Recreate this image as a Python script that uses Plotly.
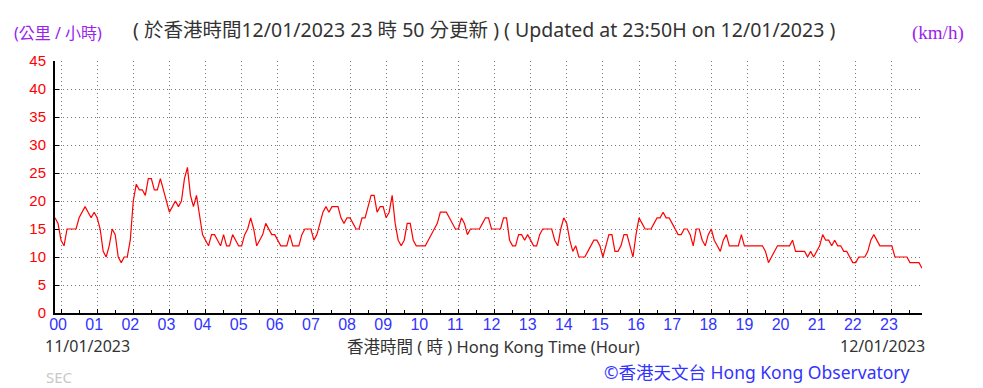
import plotly.graph_objects as go

# 10-minute mean wind speed (km/h), read every 5 minutes from 23:50 11/01 to 23:50 12/01
start_minute = -10
step_minute = 5
speed_kmh = [
    17, 16,
    13, 12, 15, 15, 15, 15, 17, 18, 19, 18, 17, 18,   # 00
    17, 15, 11, 10, 12, 15, 14, 10, 9, 10, 10, 13,    # 01
    20, 23, 22, 22, 21, 24, 24, 22, 22, 24, 22, 20,   # 02
    18, 19, 20, 19, 20, 24, 26, 21, 19, 21, 17, 14,   # 03
    13, 12, 14, 14, 13, 12, 14, 12, 12, 14, 13, 12,   # 04
    12, 14, 15, 17, 15, 12, 13, 14, 16, 15, 14, 14,   # 05
    13, 12, 12, 12, 14, 12, 12, 12, 14, 15, 15, 15,   # 06
    13, 14, 16, 18, 19, 18, 19, 19, 19, 17, 16, 17,   # 07
    17, 16, 15, 15, 17, 17, 19, 21, 21, 18, 19, 19,   # 08
    17, 18, 21, 16, 13, 12, 13, 16, 16, 13, 12, 12,   # 09
    12, 12, 13, 14, 15, 16, 18, 18, 18, 17, 16, 15,   # 10
    15, 17, 16, 14, 15, 15, 15, 15, 16, 17, 17, 15,   # 11
    15, 15, 15, 17, 17, 13, 12, 12, 14, 14, 13, 14,   # 12
    13, 12, 12, 14, 15, 15, 15, 15, 13, 12, 15, 17,   # 13
    16, 13, 11, 12, 10, 10, 10, 11, 12, 13, 13, 12,   # 14
    10, 12, 14, 14, 11, 11, 12, 14, 14, 12, 10, 14,   # 15
    17, 16, 15, 15, 15, 16, 17, 17, 18, 17, 17, 16,   # 16
    15, 14, 14, 15, 15, 14, 12, 15, 15, 13, 12, 14,   # 17
    15, 13, 12, 11, 13, 14, 12, 12, 12, 12, 14, 12,   # 18
    12, 12, 12, 12, 12, 12, 11, 9, 10, 11, 12, 12,    # 19
    12, 12, 12, 13, 11, 11, 11, 11, 10, 11, 10, 11,   # 20
    12, 14, 13, 13, 12, 13, 12, 12, 11, 11, 10, 9,    # 21
    9, 10, 10, 10, 11, 13, 14, 13, 12, 12, 12, 12,    # 22
    12, 10, 10, 10, 10, 10, 9, 9, 9, 9, 8,            # 23
]
hours = [(start_minute + i * step_minute) / 60 for i in range(len(speed_kmh))]

hour_ticks = list(range(24))
hour_labels = [f"{h:02d}" for h in hour_ticks]
speed_ticks = list(range(0, 50, 5))

title_text = "( 於香港時間12/01/2023 23 時 50 分更新 ) ( Updated at 23:50H on 12/01/2023 )"
unit_cn = "(公里 / 小時)"
unit_en = "(km/h)"
date_start = "11/01/2023"
date_end = "12/01/2023"
axis_title = "香港時間 ( 時 ) Hong Kong Time (Hour)"
credit = "©香港天文台 Hong Kong Observatory"
station = "SEC"

W, H = 983, 388
L, R, T, B = 55, 61, 61, 75
PW, PH = W - L - R, H - T - B

def px(x):
    return (x - L) / PW

def py(y):
    return (H - B - y) / PH

SANS = "Noto Sans, Noto Sans CJK TC, sans-serif"
DIG = "Liberation Sans, Arial, sans-serif"
GRID_DASH = "1px,3px"
GRID_COLOR = "#7a7a7a"

fig = go.Figure()
fig.add_trace(go.Scatter(x=hours, y=speed_kmh, mode="lines",
                         line=dict(color="#ff0000", width=1.2), hoverinfo="skip",
                         showlegend=False))

fig.update_layout(
    width=W, height=H,
    margin=dict(l=L, r=R, t=T, b=B),
    paper_bgcolor="white", plot_bgcolor="white",
    showlegend=False,
    xaxis=dict(
        range=[-1 / 6, 23 + 5 / 6], tickmode="array", tickvals=hour_ticks, ticktext=hour_labels,
        showgrid=True, gridcolor=GRID_COLOR, griddash=GRID_DASH, gridwidth=1,
        showline=True, linecolor="black", linewidth=2,
        ticks="inside", ticklen=4, tickcolor="black",
        minor=dict(dtick=0.5, ticks="inside", ticklen=3, tickcolor="black", showgrid=False),
        tickfont=dict(family=DIG, size=16, color="#3333ff"),
        ticklabelshift=-3, ticklabelstandoff=-4, zeroline=False, fixedrange=True,
    ),
    yaxis=dict(
        range=[0, 45], tickmode="array", tickvals=speed_ticks,
        showgrid=True, gridcolor=GRID_COLOR, griddash=GRID_DASH, gridwidth=1,
        showline=True, linecolor="black", linewidth=2,
        ticks="inside", ticklen=4, tickcolor="black",
        tickfont=dict(family=DIG, size=15, color="#ff0000"),
        ticklabelstandoff=4, zeroline=False, fixedrange=True,
    ),
    yaxis2=dict(
        range=[0, 45], tickmode="array", tickvals=speed_ticks,
        overlaying="y", side="right", anchor="x",
        showgrid=False, showline=True, linecolor="black", linewidth=2,
        ticks="inside", ticklen=4, tickcolor="black",
        tickfont=dict(family=DIG, size=15, color="#ff0000"),
        ticklabelstandoff=-7, zeroline=False, fixedrange=True,
    ),
)

ann = [
    dict(text=title_text, x=px(484), y=py(29), xanchor="center", font=dict(family=SANS, size=19.5, color="#333333")),
    dict(text=unit_cn, x=px(58), y=py(33), xanchor="center", font=dict(family=SANS, size=16, color="#9922ee")),
    dict(text=unit_en, x=px(938), y=py(33), xanchor="center", font=dict(family="Liberation Serif, DejaVu Serif, serif", size=19, color="#9922ee")),
    dict(text=date_start, x=px(43), y=py(346), xanchor="left", font=dict(family=SANS, size=16, color="#333333")),
    dict(text=axis_title, x=px(493), y=py(346), xanchor="center", font=dict(family=SANS, size=16.5, color="#333333")),
    dict(text=date_end, x=px(927), y=py(346), xanchor="right", font=dict(family=SANS, size=16, color="#333333")),
    dict(text=station, x=px(44), y=py(377), xanchor="left", font=dict(family=SANS, size=15, color="#c8c8c8")),
    dict(text=credit, x=px(912), y=py(372), xanchor="right", font=dict(family=SANS, size=17.5, color="#3333ff")),
]
for a in ann:
    a.update(xref="paper", yref="paper", yanchor="middle", showarrow=False)
fig.update_layout(annotations=ann)

fig.write_html("out.html", config={"displayModeBar": False},
               post_script="document.body.style.margin='0';document.body.style.overflow='hidden';")
